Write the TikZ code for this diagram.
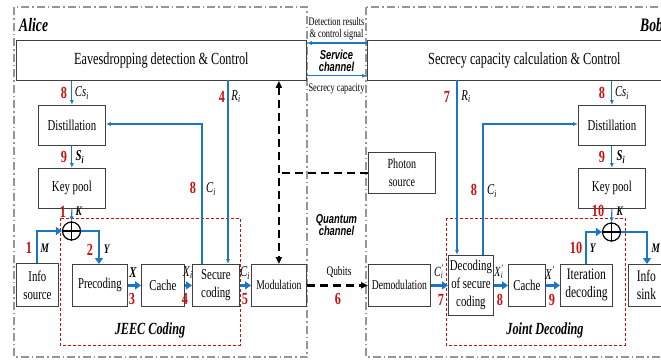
\documentclass[tikz,border=0pt]{standalone}
\usepackage{fontspec}
\setmainfont{Liberation Serif}[FakeStretch=0.72]
\newfontfamily\sfcond{Liberation Sans}[FakeStretch=0.72]
\usetikzlibrary{arrows.meta}
\definecolor{lblue}{RGB}{28,118,200}
\definecolor{dred}{RGB}{200,16,16}
\definecolor{fgray}{RGB}{150,150,150}
\newcommand\vsub[2]{\textit{#1}\textsubscript{\textit{#2}}}
\newcommand\vsubp[2]{\textit{#1}\rlap{\textsubscript{\textit{#2}}}\textsuperscript{\textit{'}}}
\newcommand\fs[1]{\fontsize{#1}{#1}\selectfont}
\begin{document}
\begin{tikzpicture}[x=1pt,y=-1pt,
  box/.style={draw=black!75, line width=0.8pt, fill=white, align=center, anchor=north west,
    inner sep=1pt, font=\fs{15}, execute at begin node=\setlength{\baselineskip}{18pt}},
  frame/.style={draw=fgray, line width=1.1pt, dash pattern=on 8pt off 3pt on 1.5pt off 3pt},
  redbox/.style={draw=dred, line width=0.9pt, dash pattern=on 3pt off 2pt},
  thin/.style={draw=lblue, line width=1.1pt},
  thinarr/.style={thin, -{Latex[length=5pt,width=4pt]}},
  thick/.style={draw=lblue, line width=2.8pt, -{Triangle[length=6pt,width=8pt]}},
  qdash/.style={draw=black, line width=2.2pt, dash pattern=on 8pt off 5pt},
  num/.style={text=dred, font=\fs{17}\bfseries, inner sep=0pt},
  var/.style={font=\fs{15}, inner sep=0pt},
  small/.style={font=\fs{11.5}, inner sep=0pt, align=center},
  sfl/.style={font=\sfcond\fs{13}\bfseries\itshape, inner sep=0pt, align=center},
  xorc/.style={circle, draw=black, line width=1.2pt, minimum size=18pt, inner sep=0pt}
]
\useasboundingbox (0,0) rectangle (661,360);
\clip (0,0) rectangle (661,360);

% frames
\draw[frame] (14,7) rectangle (307,357);
\draw[frame] (366,7) rectangle (720,357);
\draw[redbox] (60,218) rectangle (240,345);
\draw[redbox] (446,218) rectangle (625,345);

% boxes
\node[box, minimum width=290pt, minimum height=40pt, font=\fs{17}] (ta) at (16,40) {Eavesdropping detection \& Control};
\node[box, minimum width=314pt, minimum height=40pt, font=\fs{17}] (tb) at (367,40) {Secrecy capacity calculation \& Control};
\node[box, minimum width=67pt, minimum height=40pt] (distA) at (38,105) {Distillation};
\node[box, minimum width=67pt, minimum height=40pt] (keyA) at (38,168) {Key pool};
\node[box, minimum width=42pt, minimum height=43pt] (infoS) at (16,263) {Info\\source};
\node[box, minimum width=55pt, minimum height=42pt] (prec) at (72,264) {Precoding};
\node[box, minimum width=43pt, minimum height=42pt] (cacheA) at (141,264) {Cache};
\node[box, minimum width=47pt, minimum height=42pt] (sec) at (192,264) {Secure\\coding};
\node[box, minimum width=55pt, minimum height=42pt, font=\fs{13.4}] (mod) at (251,264) {Modulation};
\node[box, minimum width=67pt, minimum height=41pt, font=\fs{14}] (photon) at (368,152) {Photon\\source};
\node[box, minimum width=62pt, minimum height=42pt, font=\fs{13.4}] (demod) at (368,264) {Demodulation};
\node[box, minimum width=45pt, minimum height=60pt] (dec) at (448,255) {Decoding\\of secure\\coding};
\node[box, minimum width=37pt, minimum height=42pt] (cacheB) at (508,264) {Cache};
\node[box, minimum width=52pt, minimum height=42pt, font=\fs{16}] (iter) at (560,264) {Iteration\\decoding};
\node[box, minimum width=36pt, minimum height=42pt, font=\fs{16}] (sink) at (628,264) {Info\\sink};
\node[box, minimum width=67pt, minimum height=40pt] (distB) at (578,105) {Distillation};
\node[box, minimum width=67pt, minimum height=40pt] (keyB) at (578,168) {Key pool};

% XOR
\node[xorc] (xa) at (71.5,231) {};
\draw[line width=1.2pt] (xa.north) -- (xa.south) (xa.west) -- (xa.east);
\node[xorc] (xb) at (611.5,232) {};
\draw[line width=1.2pt] (xb.north) -- (xb.south) (xb.west) -- (xb.east);

% titles
\node[font=\fs{19}\bfseries\itshape, anchor=west, inner sep=0pt] (alice) at (19,25) {Alice};
\node[font=\fs{19}\bfseries\itshape, anchor=west, inner sep=0pt] (bob) at (640,25) {Bob};
\node[font=\fs{17}\bfseries\itshape, inner sep=0pt] (jeec) at (150,330) {JEEC Coding};
\node[font=\fs{17}\bfseries\itshape, inner sep=0pt] (jd) at (545,330) {Joint Decoding};

% service channel
\node[small] (detl) at (336.5,28.5) {Detection results\\\& control signal};
\node[sfl] (scl) at (336.5,61) {Service\\[-1pt]channel};
\node[small] (secl) at (336.5,89) {Secrecy capacity};
\draw[thinarr] ([yshift=-3pt]tb.north west) -- ([yshift=-3pt]ta.north east);
\draw[thinarr] ([yshift=5pt]ta.south east) -- ([yshift=5pt]tb.south west);

% quantum channel
\node[sfl] (qcl) at (336.5,225) {Quantum\\[-1pt]channel};
\node[font=\fs{13}, inner sep=0pt] (qub) at (339,272) {Qubits};
\node[num] (n6) at (338,299) {6};
\coordinate (jn) at (mod.north |- photon.west);
\draw[qdash] (photon.west) -- (jn);
\draw[qdash, {Triangle[length=7pt,width=6pt]}-{Triangle[length=7pt,width=6pt]}] (mod.north |- ta.south) -- (mod.north);
\draw[qdash, -{Triangle[length=7pt,width=6pt]}] (mod.east) -- (demod.west);

% Alice connectors
\draw[thinarr] (distA.north |- ta.south) -- (distA.north);
\draw[thinarr] (distA.south) -- (keyA.north);
\draw[thinarr] (keyA.south) -- (xa.north);
\coordinate (ra) at (228,80);
\draw[thinarr] (ra) -- (ra |- sec.north);
\coordinate (ca) at (202,264);
\draw[thinarr] (ca) -- (ca |- 0,124) -- (distA.east |- 0,124);
\draw[thick] (infoS.north -| 37,0) -- (37,231) -- (xa.west);
\draw[thick] (xa.east) -- (99,231) -- (99,264);
\draw[thick] (prec.east) -- (cacheA.west);
\draw[thick] (cacheA.east) -- (sec.west);
\draw[thick] (sec.east) -- (mod.west);

% Bob connectors
\draw[thinarr] (distB.north |- tb.south) -- (distB.north);
\draw[thinarr] (distB.south) -- (keyB.north);
\draw[thinarr] (keyB.south) -- (xb.north);
\coordinate (rb) at (457,80);
\draw[thinarr] (rb) -- (rb |- dec.north);
\coordinate (cb) at (483,255);
\draw[thinarr] (cb) -- (cb |- 0,124) -- (distB.west |- 0,124);
\draw[thick] (demod.east) -- (dec.west);
\draw[thick] (dec.east |- cacheB.west) -- (cacheB.west);
\draw[thick] (cacheB.east) -- (iter.west);
\draw[thick] (iter.north -| 586,0) -- (586,232) -- (xb.west);
\draw[thick] (xb.east) -- (647,232) -- (647,264);

% Alice labels
\node[num] at (64,93) {8};  \node[var] at (82,93) {\vsub{Cs}{i}};
\node[num] at (222,97) {4}; \node[var] at (236,97) {\vsub{R}{i}};
\node[num] at (64,157) {9}; \node[var] at (80,157) {\textbf{\vsub{S}{i}}};
\node[num] at (193,188) {8}; \node[var] at (211,189) {\vsub{C}{i}};
\node[num] at (63,212) {1}; \node[var, font=\fs{13}] at (79,211) {\textbf{\textit{K}}};
\node[num] at (29,248) {1}; \node[var, font=\fs{13}] at (45,248) {\textbf{\textit{M}}};
\node[num] at (90,250) {2}; \node[var, font=\fs{13}] at (107,249) {\textbf{\textit{Y}}};
\node[var] at (133,273) {\textbf{\textit{X}}}; \node[num] at (132,299) {3};
\node[var] at (188,273) {\vsub{X}{i}}; \node[num] at (185,299) {4};
\node[var] at (245,273) {\vsub{C}{i}}; \node[num] at (245,299) {5};

% Bob labels
\node[num] at (447,97) {7}; \node[var] at (466,97) {\vsub{R}{i}};
\node[num] at (602,93) {8}; \node[var] at (622,93) {\vsub{Cs}{i}};
\node[num] at (602,157) {9}; \node[var] at (621,157) {\textbf{\vsub{S}{i}}};
\node[num] at (474,190) {8}; \node[var] at (492,191) {\vsub{C}{i}};
\node[num] at (598,211) {10}; \node[var, font=\fs{13}] at (620,211) {\textbf{\textit{K}}};
\node[num] at (576,248) {10}; \node[var, font=\fs{13}] at (593,248) {\textbf{\textit{Y}}};
\node[var, font=\fs{13}] at (656,248) {\textbf{\textit{M}}};
\node[var, font=\fs{14}] at (439,272) {\vsubp{C}{i}}; \node[num] at (441,300) {7};
\node[var, font=\fs{14}] at (499,272) {\vsubp{X}{i}}; \node[num] at (500,300) {8};
\node[var] at (550,273) {\textit{X}\textsuperscript{\textit{'}}}; \node[num] at (552,300) {9};
\end{tikzpicture}
\end{document}
